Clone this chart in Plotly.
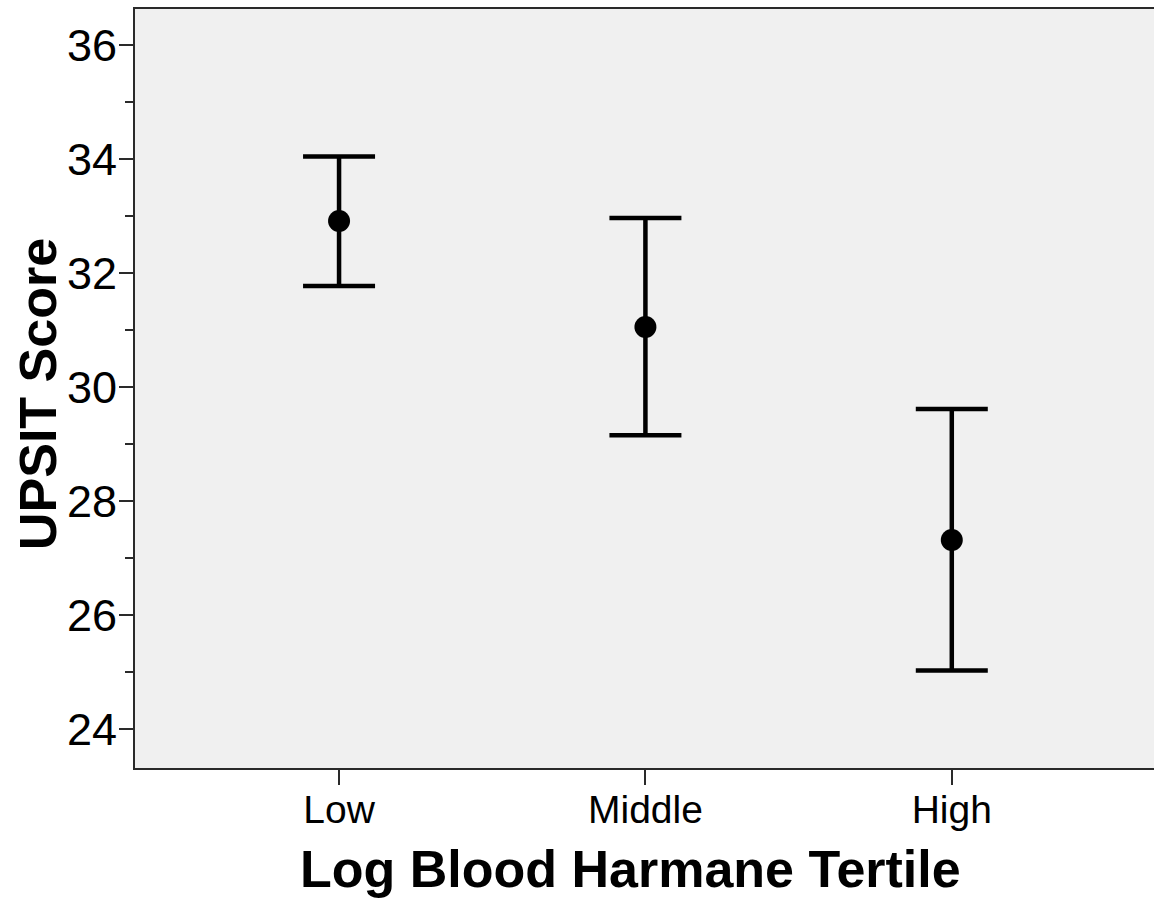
import plotly.graph_objects as go

categories = ["Low", "Middle", "High"]
means = [32.92, 31.06, 27.32]
upper = [34.05, 32.97, 29.62]
lower = [31.78, 29.16, 25.03]
x_title = "Log Blood Harmane Tertile"
y_title = "UPSIT Score"

x_pos = list(range(len(categories)))
err_plus = [u - m for u, m in zip(upper, means)]
err_minus = [m - l for m, l in zip(means, lower)]

fig = go.Figure()
fig.add_trace(go.Scatter(
    x=x_pos, y=means, mode="markers",
    marker=dict(color="black", size=22),
    error_y=dict(type="data", symmetric=False, array=err_plus, arrayminus=err_minus,
                 color="black", thickness=4.5, width=36),
    showlegend=False,
))

font_family = "Liberation Sans, Arial, sans-serif"
fig.update_layout(
    width=1154, height=901,
    margin=dict(l=134.5, r=0, t=9, b=133),
    paper_bgcolor="white", plot_bgcolor="#F0F0F0",
    font=dict(family=font_family, color="black"),
)
fig.update_xaxes(
    range=[-0.666, 2.66], tickmode="array", tickvals=x_pos, ticktext=categories,
    showgrid=False, zeroline=False, showline=True, linecolor="#2a2a2a", linewidth=2,
    mirror=True, ticks="outside", ticklen=15, tickwidth=2, tickcolor="#2a2a2a",
    tickfont=dict(size=39, family=font_family), ticklabelstandoff=-9,
)
fig.update_yaxes(
    range=[23.32, 36.64], tick0=24, dtick=2,
    showgrid=False, zeroline=False, showline=True, linecolor="#2a2a2a", linewidth=2,
    ticks="outside", ticklen=14, tickwidth=2, tickcolor="#2a2a2a",
    tickfont=dict(size=45, family=font_family), ticklabelstandoff=-7,
    minor=dict(dtick=1, tick0=24, ticks="outside", ticklen=8, tickwidth=2, tickcolor="#2a2a2a", showgrid=False),
)

fig.add_annotation(
    text=f"<b>{x_title}</b>", xref="paper", yref="paper", x=0.486, y=0,
    xanchor="center", yanchor="middle", yshift=-101, showarrow=False,
    font=dict(size=52, family=font_family, color="black"),
)
fig.add_annotation(
    text=f"<b>{y_title}</b>", xref="paper", yref="paper", x=0, y=0.5,
    xanchor="center", yanchor="middle", xshift=-97.5, yshift=-6, textangle=-90,
    showarrow=False, font=dict(size=52, family=font_family, color="black"),
)

fig.write_html(
    "out.html",
    config={"displayModeBar": False},
    post_script="document.body.style.margin='0';document.body.style.overflow='hidden';",
)
